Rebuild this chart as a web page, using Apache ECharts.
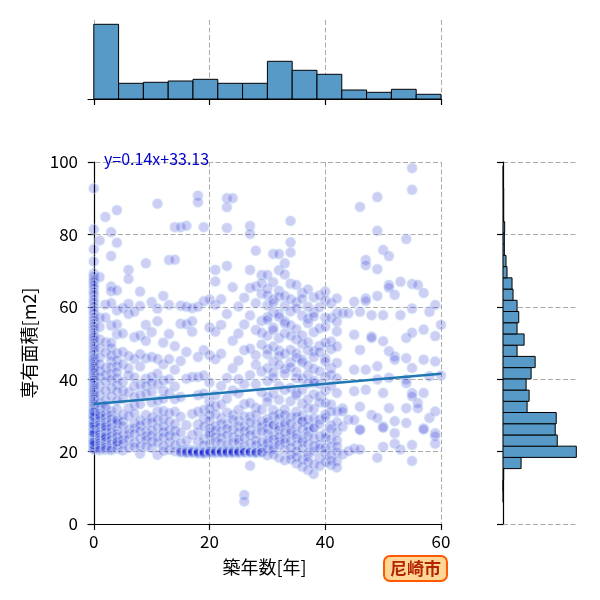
<!DOCTYPE html>
<html>
<head>
<meta charset="utf-8">
<script src="https://cdn.jsdelivr.net/npm/echarts@6/dist/echarts.min.js"></script>
<style>
html, body { margin: 0; padding: 0; background: #fff; }
#main { width: 600px; height: 600px; }
</style>
</head>
<body>
<div id="main"></div>
<script>
// 築年数ごとの専有面積 (各行 = 1年分, 行番号 = 年)
var areasAge00to09 = [
  [92.7, 81.4, 75.9, 72.5, 69.2, 68.4, 67.5, 66.9, 66.0, 65.2, 64.1, 63.3, 62.0, 61.2, 60.1, 59.0, 58.2, 57.1, 56.3, 55.4,
   54.6, 53.8, 52.9, 52.1, 51.5, 50.8, 50.0, 49.2, 48.5, 47.6, 46.9, 46.0, 45.6, 45.1, 44.6, 44.0,
   43.5, 43.0, 42.4, 41.8, 41.0, 40.4, 39.8, 39.1, 38.3, 37.6, 37.0, 36.4, 35.8, 35.1, 34.5, 33.8,
   33.2, 32.6, 32.0, 31.4, 30.9, 30.3, 29.8, 29.2, 28.7, 28.1, 27.6, 27.0, 26.5, 26.0, 25.5, 25.0, 24.6, 24.1,
   23.7, 23.2, 22.8, 22.4, 22.0, 21.6, 21.2, 20.9, 20.6, 30.0, 28.0, 26.2, 24.8, 23.0, 21.8, 22.6, 25.2, 27.3, 29.5, 31.0],
  [78.3, 68.2, 57.0, 54.4, 51.0, 48.6, 46.0, 44.2, 42.3, 40.6, 38.1, 35.7, 33.5, 31.8, 30.6, 29.3, 28.5, 27.6, 26.7, 25.5, 24.8, 23.9, 23.2, 22.4, 21.7, 21.0, 20.4, 29.9],
  [84.8, 60.6, 57.0, 50.2, 47.3, 43.1, 41.2, 39.4, 36.8, 34.2, 31.9, 30.4, 29.5, 28.2, 27.3, 26.1, 25.3, 24.4, 23.6, 22.7, 21.9, 21.2, 20.5, 32.8, 26.8, 24.0],
  [80.6, 74.0, 65.6, 64.3, 61.0, 54.8, 50.1, 48.7, 46.6, 45.1, 43.4, 41.6, 39.9, 37.6, 35.3, 31.2, 30.1, 29.0, 27.9, 26.6, 25.4, 24.3, 23.2, 22.1, 21.0, 20.4],
  [86.7, 77.7, 64.5, 59.0, 55.1, 52.4, 47.2, 45.3, 43.6, 42.0, 40.3, 38.4, 36.6, 34.1, 31.7, 29.1, 27.8, 26.2, 25.0, 24.1, 23.0, 21.9, 20.8, 28.5, 22.6],
  [59.6, 52.6, 47.5, 44.1, 39.2, 36.8, 34.6, 30.2, 28.4, 27.1, 24.6, 23.3, 22.2, 20.3],
  [70.2, 67.7, 60.8, 58.0, 46.4, 43.0, 41.1, 36.4, 32.0, 29.8, 26.1, 24.9, 23.4, 21.0],
  [58.6, 51.6, 45.6, 40.5, 38.0, 35.1, 32.8, 30.5, 27.8, 26.5, 25.0, 22.5, 21.3],
  [64.2, 60.2, 52.1, 46.9, 43.5, 38.4, 35.6, 33.1, 28.6, 27.2, 25.7, 23.6, 21.5, 19.4],
  [72.0, 55.0, 50.6, 45.8, 40.1, 38.2, 36.0, 30.1, 28.0, 25.6, 24.3, 23.2, 21.4]
];
var areasAge10to19 = [
  [61.3, 53.0, 46.1, 40.6, 39.0, 36.5, 33.6, 29.4, 28.1, 26.0, 24.5, 22.8, 21.0],
  [88.5, 59.5, 56.0, 45.6, 41.5, 38.6, 34.0, 31.1, 28.8, 26.6, 24.1, 22.5, 19.1],
  [63.0, 50.1, 44.1, 39.6, 36.9, 34.6, 31.2, 29.1, 27.0, 25.5, 24.0, 21.6, 20.2],
  [72.9, 60.5, 52.5, 45.5, 40.0, 36.1, 30.6, 28.3, 26.0, 24.4, 22.6, 20.5],
  [82.0, 73.0, 49.1, 42.6, 38.0, 34.5, 31.0, 27.6, 25.8, 24.1, 21.8, 20.1],
  [82.0, 60.3, 55.3, 45.0, 35.1, 29.6, 25.3, 22.4, 20.5, 20.0, 19.8],
  [82.4, 60.0, 55.2, 47.5, 40.1, 27.3, 23.0, 20.6, 20.0, 20.0, 19.6],
  [59.6, 56.0, 53.1, 40.6, 30.4, 24.6, 20.4, 20.0, 20.0, 19.7],
  [90.7, 88.9, 60.0, 46.1, 40.6, 35.6, 31.0, 27.5, 25.4, 22.8, 20.3, 19.9, 19.9, 19.5],
  [82.0, 61.5, 48.0, 41.0, 36.0, 31.5, 29.0, 27.0, 23.5, 21.8, 20.2, 19.8, 19.8, 19.4]
];
var areasAge20to29 = [
  [62.0, 54.3, 46.6, 39.1, 33.8, 31.9, 30.1, 28.6, 26.5, 25.2, 24.6, 22.1, 20.4, 20.0, 20.0, 19.6],
  [70.2, 67.0, 60.5, 53.1, 45.5, 35.6, 32.6, 30.4, 27.1, 25.9, 24.0, 22.7, 20.5, 20.1, 20.1, 19.6],
  [62.1, 55.0, 47.0, 38.1, 33.0, 29.2, 27.7, 25.6, 23.9, 22.4, 20.4, 20.0, 20.0, 19.7],
  [90.0, 87.5, 81.8, 71.3, 58.0, 40.3, 34.6, 30.8, 27.6, 26.3, 24.5, 21.9, 20.5, 20.0, 20.0, 19.6],
  [90.0, 65.4, 50.6, 43.0, 36.9, 30.1, 28.9, 26.2, 24.0, 22.5, 20.4, 20.0, 20.0, 19.6],
  [60.1, 52.6, 45.1, 40.0, 36.1, 31.5, 28.6, 27.0, 25.3, 23.4, 22.6, 20.4, 20.0, 20.0, 19.6],
  [62.5, 55.1, 48.0, 38.6, 33.1, 29.7, 27.1, 25.7, 23.8, 21.5, 20.4, 19.8, 19.8, 8.0, 6.2],
  [82.3, 80.1, 70.2, 65.2, 57.6, 48.4, 41.1, 33.4, 29.6, 28.1, 26.0, 24.6, 22.3, 20.2, 19.8, 19.8, 16.1],
  [75.5, 65.6, 61.0, 53.6, 46.6, 44.0, 38.6, 32.1, 30.2, 27.6, 25.0, 23.1, 21.8, 20.2, 19.7, 19.7],
  [68.8, 66.5, 63.6, 56.1, 52.8, 49.6, 42.1, 36.4, 31.6, 28.3, 26.9, 25.6, 22.7, 21.0, 19.8, 19.8]
];
var areasAge30to39 = [
  [68.8, 65.0, 63.2, 60.4, 57.1, 56.4, 52.0, 48.3, 46.9, 43.0, 39.5, 35.1, 33.8, 29.0, 28.2, 26.4, 25.1, 23.0, 22.4, 20.7, 19.0],
  [74.6, 66.8, 62.0, 61.1, 58.5, 54.2, 53.6, 49.0, 44.8, 41.9, 40.5, 36.0, 31.5, 29.8, 27.3, 27.3, 24.5, 23.4, 21.2, 20.6, 19.2],
  [74.6, 70.1, 64.4, 62.8, 58.0, 57.2, 51.3, 47.9, 46.5, 44.0, 38.2, 34.3, 30.4, 29.2, 26.8, 26.0, 24.1, 22.8, 21.9, 18.3],
  [72.0, 68.9, 63.0, 60.2, 56.0, 55.4, 52.6, 47.0, 42.8, 41.5, 37.0, 31.6, 30.2, 28.0, 27.4, 25.2, 23.6, 22.6, 20.5, 17.6],
  [83.7, 77.8, 75.0, 66.4, 62.1, 58.7, 54.9, 52.0, 48.1, 44.6, 43.3, 37.6, 33.9, 29.5, 27.8, 25.9, 25.3, 22.9, 21.1, 19.2, 17.9],
  [66.0, 61.3, 59.6, 53.8, 51.0, 47.2, 46.0, 42.0, 40.3, 36.2, 35.6, 31.0, 29.6, 27.1, 24.8, 23.9, 21.8, 20.1, 18.6, 16.7],
  [63.8, 62.2, 57.5, 52.1, 49.8, 45.4, 44.7, 40.1, 37.0, 33.2, 30.0, 28.4, 28.4, 26.2, 23.4, 22.7, 20.8, 17.9, 15.8],
  [64.8, 60.0, 56.8, 55.5, 50.2, 48.0, 43.8, 41.2, 38.8, 34.4, 32.0, 28.9, 27.0, 25.6, 24.4, 22.1, 19.7, 18.5, 17.2, 14.9],
  [62.6, 58.4, 57.3, 53.0, 47.7, 46.1, 42.9, 39.6, 39.0, 35.8, 31.8, 29.2, 26.5, 26.5, 23.7, 21.6, 20.2, 16.4, 13.8],
  [63.1, 59.9, 54.0, 49.2, 47.5, 42.2, 38.7, 35.3, 33.6, 28.8, 27.6, 24.2, 22.0, 20.9, 18.1, 16.0]
];
var areasAge40to49 = [
  [64.2, 61.8, 57.0, 54.5, 50.1, 45.7, 44.9, 40.6, 36.8, 33.4, 30.2, 29.4, 25.0, 23.8, 21.0, 19.5, 17.1],
  [61.0, 56.9, 50.4, 48.3, 43.0, 41.3, 38.1, 33.0, 31.1, 27.2, 26.3, 23.5, 21.5, 19.0, 17.6, 16.3],
  [62.3, 58.2, 55.9, 53.2, 49.0, 44.5, 40.2, 36.2, 31.0, 28.1, 25.4, 23.1, 21.5, 19.9, 17.4, 15.6],
  [58.2, 31.9, 31.1, 26.9, 19.2],
  [58.2, 28.8, 20.1],
  [61.4, 52.3, 42.6, 36.7, 28.7, 20.8],
  [87.6, 58.6, 48.1, 32.4, 26.1, 26.0, 20.6],
  [72.9, 71.5, 62.3, 61.6, 42.6, 37.1],
  [57.7, 51.8, 51.4, 30.1],
  [90.3, 81.0, 70.4, 63.0, 43.6, 39.9, 29.3, 18.3]
];
var areasAge50to60 = [
  [75.7, 57.7, 50.5, 36.2, 26.9, 26.6, 21.3],
  [74.0, 66.0, 65.3, 47.7, 40.4, 32.0],
  [63.3, 46.3, 45.4, 28.4, 25.1, 22.2],
  [66.9, 57.7, 20.6],
  [78.7, 51.4, 45.8, 39.9, 38.9, 32.0, 27.9],
  [98.3, 92.3, 66.3, 59.5, 52.8, 43.1, 36.1, 35.3, 21.8, 17.4],
  [66.0, 33.4, 32.0],
  [63.8, 53.7, 45.4, 36.2, 26.4, 26.1],
  [58.6, 40.8, 29.3],
  [60.5, 51.9, 44.9, 31.1, 25.1, 24.3, 22.2],
  [55.0, 41.0]
];

// 回帰式
var regSlope = 0.14;
var regIntercept = 33.13;

// 上のヒストグラム (築年数, 0〜60 を14区間)
var ageBinStart = 0;
var ageBinWidth = 60 / 14;
var ageCounts = [74.7, 15.7, 16.7, 18.0, 19.7, 15.7, 15.7, 37.7, 28.7, 24.7, 9.0, 6.7, 9.7, 4.7];

// 右のヒストグラム (専有面積, 6.0 から 3.1 刻み)
var areaBinStart = 6.0;
var areaBinWidth = 3.1;
var areaCounts = [1, 0, 2, 54, 219, 162, 156, 159, 72, 78, 69, 84, 96, 42, 63, 42, 47, 42, 30, 27, 12, 9, 4, 4, 5, 2, 2, 2, 1, 1];

var xTicks = [0, 20, 40, 60];
var cityName = '尼崎市';

var points = [];
[[0, areasAge00to09], [10, areasAge10to19], [20, areasAge20to29], [30, areasAge30to39], [40, areasAge40to49], [50, areasAge50to60]]
  .forEach(function (g) {
    g[1].forEach(function (ys, i) {
      ys.forEach(function (y) { points.push([g[0] + i, y]); });
    });
  });

var ageBins = ageCounts.map(function (c, i) {
  return [ageBinStart + i * ageBinWidth, ageBinStart + (i + 1) * ageBinWidth, c];
});
var areaBins = areaCounts.map(function (c, i) {
  return [areaBinStart + i * areaBinWidth, areaBinStart + (i + 1) * areaBinWidth, c];
});

var FONT = '"Noto Sans CJK JP", "Noto Sans", sans-serif';
var gridLine = { show: true, lineStyle: { color: '#aaaaaa', type: [5, 2.5], width: 1 } };
var spine = { show: true, lineStyle: { color: '#000', width: 1.2 } };
var tick = { show: true, length: 6, lineStyle: { color: '#000', width: 1.2 } };
var barFill = '#5799c7';

var myChart = echarts.init(document.getElementById('main'));

var option = {
  animation: false,
  grid: [
    { left: 88, top: 162, width: 353, height: 362 },
    { left: 88, top: 20, width: 353, height: 79 },
    { left: 503, top: 162, width: 75, height: 362 }
  ],
  xAxis: [
    {
      gridIndex: 0, type: 'value', min: -1, max: 60,
      axisLine: spine,
      axisTick: Object.assign({ customValues: xTicks }, tick),
      axisLabel: { customValues: xTicks, fontSize: 17, color: '#000', margin: 9, fontFamily: FONT },
      splitLine: gridLine,
      name: '築年数[年]', nameLocation: 'middle', nameGap: 34,
      nameTextStyle: { fontSize: 18, color: '#000', fontFamily: FONT }
    },
    {
      gridIndex: 1, type: 'value', min: -1, max: 60,
      axisLine: spine,
      axisTick: Object.assign({ customValues: xTicks }, tick),
      axisLabel: { show: false, customValues: xTicks },
      splitLine: gridLine
    },
    { gridIndex: 2, type: 'value', min: 0, max: 224, show: false }
  ],
  yAxis: [
    {
      gridIndex: 0, type: 'value', min: 0, max: 100, interval: 20,
      axisLine: spine, axisTick: tick,
      axisLabel: { fontSize: 17, color: '#000', margin: 10, fontFamily: FONT },
      splitLine: gridLine,
      name: '専有面積[m2]', nameLocation: 'middle', nameGap: 50, nameRotate: 90,
      nameTextStyle: { fontSize: 18, color: '#000', fontFamily: FONT }
    },
    { gridIndex: 1, type: 'value', min: 0, max: 79, show: false },
    {
      gridIndex: 2, type: 'value', min: 0, max: 100, interval: 20,
      axisLine: spine, axisTick: tick,
      axisLabel: { show: false },
      splitLine: gridLine
    }
  ],
  series: [
    {
      type: 'scatter', xAxisIndex: 0, yAxisIndex: 0,
      data: points, symbolSize: 10, silent: true,
      itemStyle: { color: 'rgba(0,0,205,0.24)', borderColor: 'rgba(200,225,245,0.55)', borderWidth: 1.5 }
    },
    {
      type: 'line', xAxisIndex: 0, yAxisIndex: 0, symbol: 'none', silent: true, z: 5,
      data: [[0, regIntercept], [60, regIntercept + regSlope * 60]],
      lineStyle: { color: '#1f77b4', width: 2.5 }
    },
    {
      type: 'custom', xAxisIndex: 1, yAxisIndex: 1, data: ageBins, silent: true,
      encode: { x: [0, 1], y: 2 },
      renderItem: function (params, api) {
        var p0 = api.coord([api.value(0), 0]);
        var p1 = api.coord([api.value(1), api.value(2)]);
        return { type: 'rect', shape: { x: p0[0], y: p1[1], width: p1[0] - p0[0], height: p0[1] - p1[1] },
          style: { fill: barFill, stroke: '#000', lineWidth: 1 } };
      }
    },
    {
      type: 'custom', xAxisIndex: 2, yAxisIndex: 2, data: areaBins, silent: true,
      encode: { y: [0, 1], x: 2 },
      renderItem: function (params, api) {
        var p0 = api.coord([0, api.value(0)]);
        var p1 = api.coord([api.value(2), api.value(1)]);
        return { type: 'rect', shape: { x: p0[0], y: p1[1], width: p1[0] - p0[0], height: p0[1] - p1[1] },
          style: { fill: barFill, stroke: '#000', lineWidth: 1 } };
      }
    }
  ],
  graphic: [
    {
      type: 'text', left: 104, top: 151, z: 10,
      style: { text: 'y=' + regSlope + 'x+' + regIntercept, fill: '#0000cd', fontSize: 16, fontFamily: FONT }
    },
    {
      type: 'text', left: 383, top: 555, z: 10,
      style: {
        text: cityName, fill: '#b32400', fontSize: 17, fontWeight: 'bold', fontFamily: FONT,
        backgroundColor: '#ffd696', borderColor: '#ff5a00', borderWidth: 2, borderRadius: 5, padding: [3, 5]
      }
    }
  ]
};

myChart.setOption(option);
</script>
</body>
</html>
